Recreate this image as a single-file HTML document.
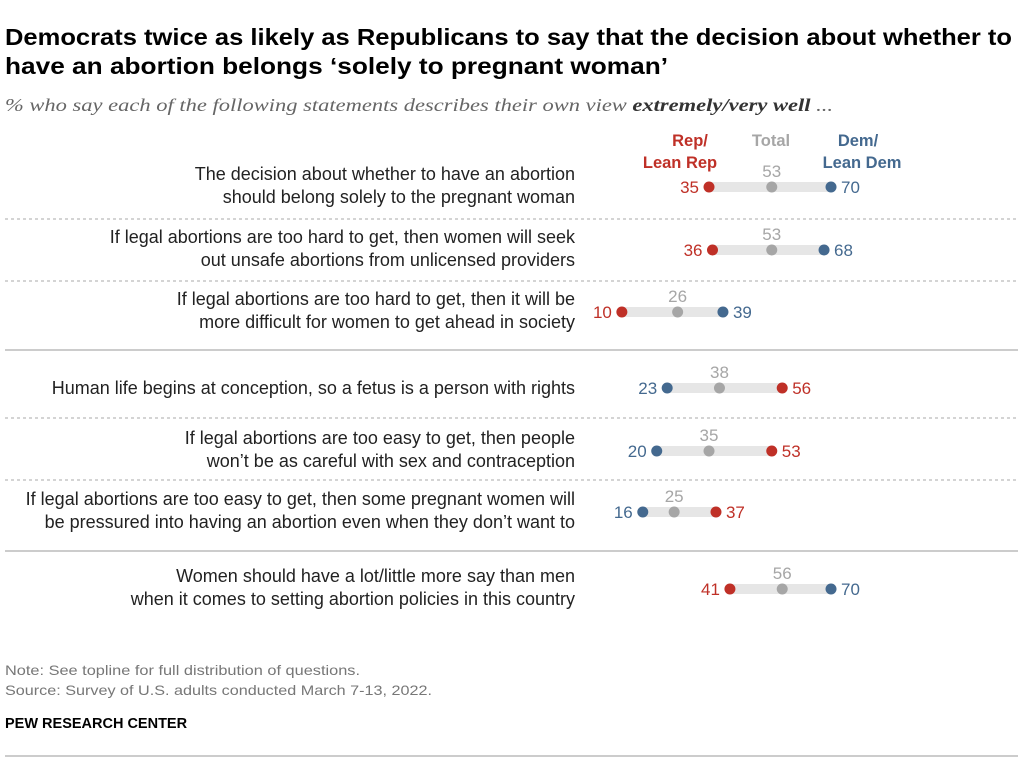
<!DOCTYPE html>
<html><head><meta charset="utf-8">
<style>
body{margin:0;background:#fff;}
svg{display:block;font-family:"Liberation Sans",sans-serif;}
</style></head>
<body>
<svg id="chart" width="1024" height="760" viewBox="0 0 1024 760">
<text x="5" y="45" font-size="23" font-weight="bold" fill="#000" textLength="1007" lengthAdjust="spacingAndGlyphs">Democrats twice as likely as Republicans to say that the decision about whether to</text>
<text x="5" y="74" font-size="23" font-weight="bold" fill="#000" textLength="663" lengthAdjust="spacingAndGlyphs">have an abortion belongs ‘solely to pregnant woman’</text>
<text x="5" y="111" font-size="18" font-style="italic" fill="#666" font-family="Liberation Serif, serif" textLength="828" lengthAdjust="spacingAndGlyphs">% who say each of the following statements describes their own view <tspan font-weight="bold" fill="#333">extremely/very well</tspan> ...</text>
<text x="690" y="146" font-size="16.5" font-weight="bold" fill="#bf3027" text-anchor="middle">Rep/</text>
<text x="680" y="168" font-size="16.5" font-weight="bold" fill="#bf3027" text-anchor="middle">Lean Rep</text>
<text x="771" y="146" font-size="16.5" font-weight="bold" fill="#a6a6a6" text-anchor="middle">Total</text>
<text x="858" y="146" font-size="16.5" font-weight="bold" fill="#44698f" text-anchor="middle">Dem/</text>
<text x="862" y="168" font-size="16.5" font-weight="bold" fill="#44698f" text-anchor="middle">Lean Dem</text>
<g id="rows"></g>
<text x="5" y="675" font-size="14" fill="#777" textLength="355" lengthAdjust="spacingAndGlyphs">Note: See topline for full distribution of questions.</text>
<text x="5" y="695" font-size="14" fill="#777" textLength="427" lengthAdjust="spacingAndGlyphs">Source: Survey of U.S. adults conducted March 7-13, 2022.</text>
<text x="5" y="728" font-size="14.5" font-weight="bold" fill="#000">PEW RESEARCH CENTER</text>
<line x1="5" y1="756" x2="1018" y2="756" stroke="#999" stroke-width="1"/>
</svg>
<script>
const labels1 = ["The decision about whether to have an abortion","If legal abortions are too hard to get, then women will seek","If legal abortions are too hard to get, then it will be","Human life begins at conception, so a fetus is a person with rights","If legal abortions are too easy to get, then people","If legal abortions are too easy to get, then some pregnant women will","Women should have a lot/little more say than men"];
const labels2 = ["should belong solely to the pregnant woman","out unsafe abortions from unlicensed providers","more difficult for women to get ahead in society","","won’t be as careful with sex and contraception","be pressured into having an abortion even when they don’t want to","when it comes to setting abortion policies in this country"];
const repVals = [35,36,10,56,53,37,41];
const totalVals = [53,53,26,38,35,25,56];
const demVals = [70,68,39,23,20,16,70];
const rowY = [187,250,312,388,451,512,589];
const dividerY = [219,281,350,418,480,551];
const dividerSolid = [false,false,true,false,false,true];
const xs = v => 587 + v*3.486;
const NS = "http://www.w3.org/2000/svg";
const g = document.getElementById('rows');
function mk(tag, attrs, txt){const e=document.createElementNS(NS,tag);for(const k in attrs)e.setAttribute(k,attrs[k]);if(txt!==undefined)e.textContent=txt;g.appendChild(e);return e;}
dividerY.forEach((y,i)=>{
  const l = mk('line',{x1:5,y1:y,x2:1018,y2:y,stroke:dividerSolid[i]?'#999':'#aaa','stroke-width':1,'stroke-dasharray':dividerSolid[i]?'none':'3,3'});
  
  
});
rowY.forEach((y,i)=>{
  const two = labels2[i] !== "";
  const t1 = mk('text',{x:575,y:two?y-7:y+6,'font-size':18,fill:'#222','text-anchor':'end'},labels1[i]);
  
  
  if(two){
    const t2 = mk('text',{x:575,y:y+16,'font-size':18,fill:'#222','text-anchor':'end'},labels2[i]);
    
    
  }
  const r=repVals[i], d=demVals[i], t=totalVals[i];
  const lo=Math.min(r,d), hi=Math.max(r,d);
  const bar = mk('rect',{x:xs(lo),y:y-5,width:xs(hi)-xs(lo),height:10,fill:'#e6e6e6'});
  
  
  const tc = mk('circle',{cx:xs(t),cy:y,r:5.5,fill:'#a6a6a6'});
  
  
  const tl = mk('text',{x:xs(t),y:y-10,'font-size':17,fill:'#a6a6a6','text-anchor':'middle'},t);
  
  
  [[r,'#bf3027','rep'],[d,'#44698f','dem']].forEach(([v,c,n])=>{
    const dot = mk('circle',{cx:xs(v),cy:y,r:5.5,fill:c});
    
    
    const left = v===lo;
    const lab = mk('text',{x:left?xs(v)-10:xs(v)+10,y:y+6,'font-size':17,fill:c,'text-anchor':left?'end':'start'},v);
    
    
  });
});
</script>
</body></html>
